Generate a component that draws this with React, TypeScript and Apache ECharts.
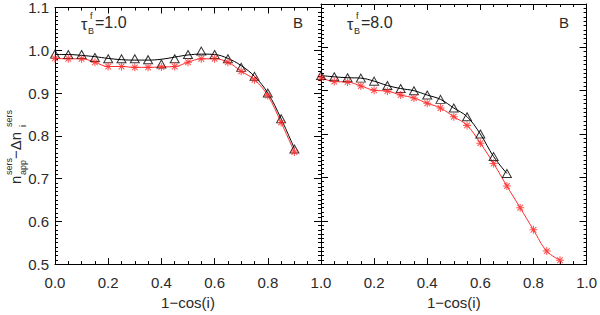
import React, { useEffect, useRef } from 'react';
import * as echarts from 'echarts';

// ---- data ----
const xLeft = [0.0, 0.05, 0.10, 0.15, 0.20, 0.25, 0.30, 0.35, 0.40, 0.45, 0.50, 0.55, 0.60, 0.65, 0.70, 0.75, 0.80, 0.85, 0.90];
const triLeft = [0.991, 0.990, 0.990, 0.983, 0.980, 0.980, 0.980, 0.978, 0.968, 0.980, 0.990, 0.998, 0.990, 0.980, 0.960, 0.939, 0.900, 0.840, 0.769];
const fitLeft = [0.990, 0.990, 0.988, 0.985, 0.981, 0.978, 0.977, 0.977, 0.979, 0.984, 0.989, 0.991, 0.990, 0.981, 0.964, 0.939, 0.900, 0.840, 0.770];
const astLeft = [0.981, 0.980, 0.980, 0.972, 0.962, 0.962, 0.960, 0.960, 0.961, 0.962, 0.972, 0.980, 0.980, 0.972, 0.951, 0.931, 0.894, 0.831, 0.762];

const xRightTri = [0.0, 0.05, 0.10, 0.15, 0.20, 0.25, 0.30, 0.35, 0.40, 0.45, 0.50, 0.55, 0.60, 0.65, 0.70];
const triRight = [0.935, 0.932, 0.930, 0.929, 0.922, 0.912, 0.905, 0.900, 0.890, 0.880, 0.860, 0.840, 0.800, 0.748, 0.709];
const xRightAst = [0.0, 0.05, 0.10, 0.15, 0.20, 0.25, 0.30, 0.35, 0.40, 0.45, 0.50, 0.55, 0.60, 0.65, 0.70, 0.75, 0.80, 0.85, 0.90];
const astRight = [0.930, 0.921, 0.920, 0.911, 0.901, 0.899, 0.890, 0.883, 0.871, 0.860, 0.840, 0.820, 0.779, 0.732, 0.680, 0.630, 0.579, 0.530, 0.509];

const panelTau = ['1.0', '8.0'];
const bandLabel = 'B';
const xTitle = '1\u2212cos(i)';

// ---- styles ----
const FONT = "'Liberation Sans', Arial, sans-serif";
const RED = '#ff2b2b';
const TXT = '#2a2a2a';

function asteriskPath(): string {
  const c = 10, L = 10, w = 1.3;
  const angles = [90, 0, 45, 135];
  let d = '';
  for (const a of angles) {
    const r = (a * Math.PI) / 180;
    const dx = Math.cos(r), dy = Math.sin(r);
    const px = -dy, py = dx;
    const pts = [
      [c + dx * L + px * w, c + dy * L + py * w],
      [c + dx * L - px * w, c + dy * L - py * w],
      [c - dx * L - px * w, c - dy * L - py * w],
      [c - dx * L + px * w, c - dy * L + py * w],
    ];
    d += 'M' + pts.map((p) => p[0].toFixed(2) + ' ' + p[1].toFixed(2)).join(' L') + ' Z ';
  }
  return 'path://' + d;
}

const pairs = (xs: number[], ys: number[]) => xs.map((x, i) => [x, ys[i]]);

function xAxis(gridIndex: number, position: 'top' | 'bottom', labels: boolean, hideZero: boolean) {
  return {
    type: 'value', gridIndex, position, min: 0, max: 1, interval: 0.2,
    axisLine: { show: true, onZero: false, lineStyle: { color: '#000', width: 1 } },
    axisTick: { show: true, inside: true, length: 6, lineStyle: { color: '#000', width: 1 } },
    minorTick: { show: true, splitNumber: 4, length: 3, lineStyle: { color: '#000', width: 1 } },
    splitLine: { show: false },
    axisLabel: {
      show: labels, margin: 11, color: TXT, fontSize: 15, fontFamily: FONT,
      showMinLabel: true, showMaxLabel: true,
      formatter: (v: number) => (hideZero && Math.abs(v) < 1e-9 ? '' : v.toFixed(1)),
    },
    name: position === 'bottom' ? xTitle : '',
    nameLocation: 'middle', nameGap: 29,
    nameTextStyle: { color: TXT, fontSize: 15, fontFamily: FONT },
  };
}

function yAxis(gridIndex: number, position: 'left' | 'right', labels: boolean) {
  return {
    type: 'value', gridIndex, position, min: 0.5, max: 1.1, interval: 0.1,
    axisLine: { show: true, onZero: false, lineStyle: { color: '#000', width: 1 } },
    axisTick: { show: true, inside: true, length: 7, lineStyle: { color: '#000', width: 1 } },
    minorTick: { show: true, splitNumber: 10, length: 3, lineStyle: { color: '#000', width: 1 } },
    splitLine: { show: false },
    axisLabel: {
      show: labels, margin: 6, color: TXT, fontSize: 15, fontFamily: FONT,
      showMinLabel: true, showMaxLabel: true,
      formatter: (v: number) => v.toFixed(1),
    },
  };
}

function annotations(left: number, tau: string) {
  return [
    { type: 'text', x: left + 26, y: 24, style: { text: '\u03C4', fontSize: 16, fontFamily: FONT, fill: TXT, verticalAlign: 'middle' } },
    { type: 'text', x: left + 35, y: 16, style: { text: 'f', fontSize: 9, fontFamily: FONT, fill: TXT, verticalAlign: 'middle' } },
    { type: 'text', x: left + 33, y: 31, style: { text: 'B', fontSize: 9, fontFamily: FONT, fill: TXT, verticalAlign: 'middle' } },
    { type: 'text', x: left + 40, y: 22, style: { text: '=' + tau, fontSize: 16, fontFamily: FONT, fill: TXT, verticalAlign: 'middle' } },
    { type: 'text', x: left + 238, y: 22, style: { text: bandLabel, fontSize: 15, fontFamily: FONT, fill: TXT, verticalAlign: 'middle' } },
  ];
}

function yTitle() {
  const t = (text: string, x: number, y: number, size: number) => ({
    type: 'text', x, y,
    style: { text, fontSize: size, fontFamily: FONT, fill: TXT, verticalAlign: 'bottom' },
  });
  return {
    type: 'group', x: 20, y: 184, rotation: Math.PI / 2,
    children: [
      t('n', 0, 3, 15),
      t('sers', 9, -7, 9),
      t('app', 9, 7, 9),
      t('\u2212\u0394n', 25, 3, 15),
      t('sers', 57, -7, 9),
      t('i', 57, 7, 9),
    ],
  };
}

export default function App() {
  const ref = useRef<HTMLDivElement>(null);
  useEffect(() => {
    if (!ref.current) return;
    const chart = echarts.init(ref.current, null, { renderer: 'svg' });
    const star = asteriskPath();
    const gl = 55, gr = 321, gw = 266;
    const option: any = {
      animation: false,
      backgroundColor: '#fff',
      grid: [
        { left: gl, top: 4, width: gw, height: 265 },
        { left: gr, top: 4, width: gw, height: 265 },
      ],
      xAxis: [
        xAxis(0, 'bottom', true, false),
        xAxis(0, 'top', false, false),
        xAxis(1, 'bottom', true, true),
        xAxis(1, 'top', false, false),
      ],
      yAxis: [
        yAxis(0, 'left', true),
        yAxis(0, 'right', false),
        yAxis(1, 'left', false),
        yAxis(1, 'right', false),
      ],
      series: [
        { type: 'line', xAxisIndex: 0, yAxisIndex: 0, data: pairs(xLeft, fitLeft), smooth: 0.4, showSymbol: false, lineStyle: { color: '#000', width: 1 }, z: 2 },
        { type: 'line', xAxisIndex: 0, yAxisIndex: 0, data: pairs(xLeft, astLeft), smooth: 0.4, showSymbol: false, lineStyle: { color: RED, width: 1 }, z: 2 },
        { type: 'scatter', xAxisIndex: 0, yAxisIndex: 0, data: pairs(xLeft, triLeft), symbol: 'triangle', symbolSize: [9, 8], itemStyle: { color: 'rgba(255,255,255,0)', borderColor: '#000', borderWidth: 1 }, z: 3 },
        { type: 'scatter', xAxisIndex: 0, yAxisIndex: 0, data: pairs(xLeft, astLeft), symbol: star, symbolSize: 8, itemStyle: { color: RED }, z: 3 },

        { type: 'line', xAxisIndex: 2, yAxisIndex: 2, data: pairs(xRightTri, triRight), smooth: 0.4, showSymbol: false, lineStyle: { color: '#000', width: 1 }, z: 2 },
        { type: 'line', xAxisIndex: 2, yAxisIndex: 2, data: pairs(xRightAst, astRight), smooth: 0.4, showSymbol: false, lineStyle: { color: RED, width: 1 }, z: 2 },
        { type: 'scatter', xAxisIndex: 2, yAxisIndex: 2, data: pairs(xRightTri, triRight), symbol: 'triangle', symbolSize: [9, 8], itemStyle: { color: 'rgba(255,255,255,0)', borderColor: '#000', borderWidth: 1 }, z: 3 },
        { type: 'scatter', xAxisIndex: 2, yAxisIndex: 2, data: pairs(xRightAst, astRight), symbol: star, symbolSize: 8, itemStyle: { color: RED }, z: 3 },
      ],
      graphic: [
        ...annotations(gl, panelTau[0]),
        ...annotations(gr, panelTau[1]),
        yTitle(),
      ],
    };
    chart.setOption(option);
    return () => chart.dispose();
  }, []);
  return <div ref={ref} style={{ position: 'fixed', left: 0, top: 0, width: 600, height: 315 }} />;
}
